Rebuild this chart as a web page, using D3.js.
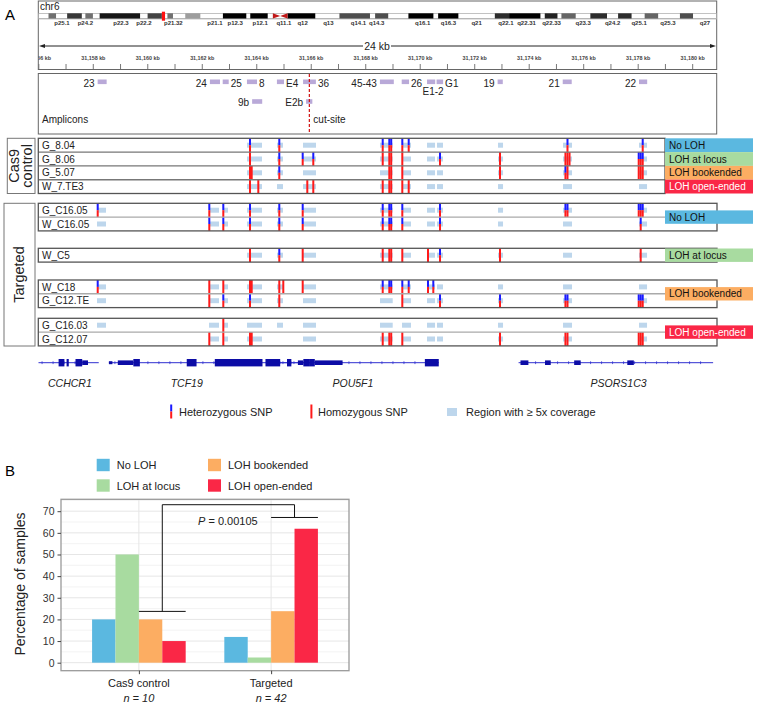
<!DOCTYPE html>
<html><head><meta charset="utf-8">
<script src="https://cdn.jsdelivr.net/npm/d3@7"></script>
<style>body{margin:0;background:#fff}svg{display:block;font-family:"Liberation Sans",Arial,Helvetica,sans-serif}</style>
</head><body><svg id="c" width="757" height="706"></svg>
<script>
// ================= DATA =================
// Ideogram of chr6 (Mb)
const chrLenMb = 171;
const bandStart = [2.5, 7.2, 11.8, 15.4, 27.5, 32.5, 37.0, 46.5, 53.4, 62.8, 75.9, 84.9, 93.3, 100.8, 115.1, 118.7, 127.7, 131.9, 139.2, 146.2, 152.9, 161.8];
const bandEnd   = [4.4, 10.9, 13.7, 25.6, 31.1, 33.9, 40.8, 52.4, 57.8, 69.8, 83.6, 88.2, 99.6, 105.9, 118.7, 126.6, 130.9, 135.5, 143.4, 149.6, 156.3, 165.1];
const bandStain = [50, 75, 50, 90, 70, 50, 30, 100, 100, 100, 65, 65, 100, 100, 80, 100, 85, 55, 80, 80, 55, 65];
const centromereMb = [59.1, 62.8];
const currentMb = [31.1, 31.9];
const bandLabels = ["p25.1","p24.2","p22.3","p22.2","p21.32","p21.1","p12.3","p12.1","q11.1","q12","q13","q14.1","q14.3","q16.1","q16.3","q21","q22.1","q22.31","q22.33","q23.3","q24.2","q25.1","q25.3","q27"];
const bandLabelMb = [5.9, 11.8, 20.8, 26.6, 34.0, 44.5, 49.6, 55.9, 61.9, 66.6, 73.1, 80.7, 85.3, 96.9, 103.4, 110.5, 117.9, 123.1, 129.4, 137.4, 144.8, 151.5, 158.8, 168.1];

// Genomic window (kb)
const viewKb = [31156, 31180.9];
const rulerTicksKb = d3.range(31156, 31181, 1);
const rulerLabelKb = d3.range(31156, 31181, 2);
const spanLabel = "24 kb";

// Amplicons (kb)
const ampName  = ["23","24","25","8","E4","36","45-43","26","E1-2","G1","19","21","22","9b","E2b"];
const ampStart = [31158.16,31162.28,31162.75,31163.64,31164.74,31165.70,31168.52,31169.32,31170.25,31170.60,31172.84,31175.23,31178.03,31163.83,31165.81];
const ampEnd   = [31158.49,31162.65,31162.97,31164.01,31165.00,31166.17,31169.03,31169.59,31170.55,31170.84,31173.03,31175.56,31178.33,31164.20,31166.04];
const ampSide  = ["l","l","r","r","r","r","l","r","b","r","l","l","l","l","l"];
const ampRow   = [0,0,0,0,0,0,0,0,0,0,0,0,0,1,1];
const cutSiteKb = 31165.93;

// Coverage regions (kb)
const covStart = [31158.136,31162.247,31162.761,31163.642,31164.743,31165.697,31168.523,31169.331,31170.249,31170.616,31172.855,31175.241,31178.030];
const covEnd   = [31158.466,31162.614,31162.944,31164.192,31164.963,31166.174,31168.990,31169.661,31170.543,31170.836,31173.039,31175.571,31178.325];

// SNP sites (kb)
const snpKb = [31158.162,31162.258,31162.772,31163.752,31163.814,31164.057,31164.827,31164.974,31165.686,31165.855,31166.075,31168.623,31168.865,31168.935,31169.342,31169.577,31170.285,31170.480,31170.726,31172.928,31175.330,31175.405,31175.480,31178.019,31178.092,31178.166];

// Samples: genotype per SNP site (h = heterozygous, H = homozygous, . = none), coverage mask
const sampleNames = ["G_8.04","G_8.06","G_5.07","W_7.TE3","G_C16.05","W_C16.05","W_C5","W_C18","G_C12.TE","G_C16.03","G_C12.07"];
const sampleBlock = [0,0,0,0,1,1,2,3,3,4,4];
const sampleGeno = [
  "...h..h....hhhhh.....h...h",
  "...H..h.h.hHHHH...hHHHHhhh",
  "...HH.h.....HHH....HhH.HHH",
  "...H.H...HHHHHHH..........",
  "hhhh..h.h..hhhh...h.hh.hhh",
  ".hhh..h.h..hhhh...h.....h.",
  "...H..h.H..HHHH.H.hH....H.",
  "hHHHH.HHH..hhhhhhh........",
  ".Hhh..H.......H...hhhh.hhh",
  "..H.......................",
  ".HHHH......HHHH....HHH.HHH"
];
const sampleCov = [
  "0001111111111","0001111111111","0001111111111","0001111111111",
  "1111111111111","1111111111111","0001111111111",
  "1111111111111","1111111111111","1111111111111","0111011111111"
];
const groupNames = ["Cas9\ncontrol","Targeted"];
const blockGroup = [0,1,1,1,1];
const lohCategories = ["No LOH","LOH at locus","LOH bookended","LOH open-ended"];
const cas9RowCategory = [0,1,2,3];
const targetedBlockCategory = [0,1,2,3];

// Genes (kb)
const geneNames = ["CCHCR1","TCF19","POU5F1","PSORS1C3"];
const geneLabelKb = [31157.14, 31161.43, 31167.53, 31177.28];
const geneLineStart = [31155.9, 31158.573, 31164.337, 31173.61];
const geneLineEnd   = [31158.20, 31167.15, 31170.68, 31180.75];
const exonStart = [31156.727,31157.020,31157.347,31157.593, 31158.573,31158.900,31159.470,31161.430,31162.460,31164.320,31165.110,31165.510,31165.710,31165.920,31166.130,31170.170, 31173.680,31174.580,31175.650,31177.600];
const exonEnd   = [31156.940,31157.100,31157.593,31157.806, 31158.701,31159.470,31159.710,31161.790,31164.210,31164.860,31165.270,31165.710,31165.920,31166.130,31167.150,31170.680, 31173.970,31174.790,31175.890,31177.840];
const exonSize  = [2,2,2,1, 0,1,2,2,2,2,2,1,2,2,1,2, 1,1,1,1];

// Panel B
const groupsB = ["Cas9 control","Targeted"];
const groupN = ["n = 10","n = 42"];
const noLOH = [20, 11.9];
const lohAtLocus = [50, 2.4];
const lohBookended = [20, 23.8];
const lohOpenEnded = [10, 61.9];
const pValueText = "0.00105";
const yTicksB = [0,10,20,30,40,50,60,70];
const bracketLevels = [23.7, 73, 67.1];

// ================= DRAW =================
const svg = d3.select("#c");
const COLORS = ["#5bb8e0","#a8dba0","#fcad62","#fa2746"];
const SNPBLUE = "#1a1aff", SNPRED = "#ff1a1a", COV = "#bdd6ec", AMP = "#b9a9d8";
const GENE = "#0c0ca6", GENELINE = "#3030d0";

// Panel letters
svg.append("text").attr("x",5).attr("y",20).attr("font-size",15).text("A");
svg.append("text").attr("x",5).attr("y",476).attr("font-size",15).text("B");

// ---------- Ideogram ----------
const xi = d3.scaleLinear().domain([0, chrLenMb]).range([38.6, 716.4]);
const ideo = svg.append("g");
ideo.append("rect").attr("x",38.3).attr("y",1).attr("width",678.4).attr("height",68.5).attr("fill","none").attr("stroke","#666").attr("stroke-width",1);
ideo.append("text").attr("x",40).attr("y",10).attr("font-size",10).attr("fill","#222").text("chr6");
ideo.append("rect").attr("x",xi(0)).attr("y",17.5).attr("width",xi(chrLenMb)-xi(0)).attr("height",2).attr("fill","#c8c8c8");
ideo.append("rect").attr("x",xi(0)).attr("y",13.3).attr("width",xi(chrLenMb)-xi(0)).attr("height",5.2).attr("fill","#fff").attr("stroke","#999").attr("stroke-width",0.6);
const stainColor = s => d3.interpolateGray ? d3.interpolateRgb("#d8d8d8","#000")(s/100) : "#888";
bandStart.forEach((s,i)=>{
  ideo.append("rect").attr("x",xi(s)).attr("y",13.3).attr("width",xi(bandEnd[i])-xi(s)).attr("height",5.2)
    .attr("fill",d3.interpolateRgb("#e0e0e0","#000")(bandStain[i]/100));
});
// centromere
const cL = xi(centromereMb[0]), cR = xi(centromereMb[1]), cM = (cL+cR)/2;
ideo.append("path").attr("d",`M${cL},13.3L${cM},15.9L${cL},18.5Z M${cR},13.3L${cM},15.9L${cR},18.5Z`).attr("fill","#c01818");
// current locus
ideo.append("rect").attr("x",xi(currentMb[0])).attr("y",11.7).attr("width",xi(currentMb[1])-xi(currentMb[0])).attr("height",9).attr("fill","#ff1010");
ideo.selectAll("text.band").data(bandLabels).join("text").attr("class","band")
  .attr("x",(d,i)=>xi(bandLabelMb[i])).attr("y",25).attr("text-anchor","middle")
  .attr("font-size",6).attr("font-weight","bold").attr("fill","#333").text(d=>d);

// ---------- Ruler ----------
const x = d3.scaleLinear().domain(viewKb).range([38.8, 717.2]);
svg.append("defs").append("clipPath").attr("id","trackClip").append("rect").attr("x",38.5).attr("y",0).attr("width",678).attr("height",706);
const ruler = svg.append("g").attr("clip-path","url(#trackClip)");
ruler.append("line").attr("x1",42).attr("x2",713).attr("y1",46).attr("y2",46).attr("stroke","#222").attr("stroke-width",1);
ruler.append("path").attr("d","M39,46L45,44L45,48Z M716,46L710,44L710,48Z").attr("fill","#222");
const midX = (x.range()[0]+x.range()[1])/2 - 1;
ruler.append("rect").attr("x",midX-14).attr("y",40).attr("width",28).attr("height",12).attr("fill","#fff");
ruler.append("text").attr("x",midX).attr("y",50).attr("text-anchor","middle").attr("font-size",10.5).attr("fill","#222").text(spanLabel);
ruler.selectAll("line.tk").data(rulerTicksKb).join("line").attr("class","tk")
  .attr("x1",d=>x(d)).attr("x2",d=>x(d)).attr("y1",64).attr("y2",69).attr("stroke","#555").attr("stroke-width",0.8);
ruler.selectAll("text.tl").data(rulerLabelKb).join("text").attr("class","tl")
  .attr("x",d=>x(d)).attr("y",60).attr("text-anchor","middle").attr("font-size",5.4).attr("font-weight","bold").attr("fill","#444")
  .text(d=>d3.format(",")(d)+" kb");

// ---------- Amplicons ----------
const amp = svg.append("g");
amp.append("rect").attr("x",38.3).attr("y",73.5).attr("width",678.4).attr("height",60.5).attr("fill","none").attr("stroke","#666").attr("stroke-width",1);
const ampY = [79.5, 99.2];
ampName.forEach((n,i)=>{
  const y0 = ampY[ampRow[i]];
  amp.append("rect").attr("x",x(ampStart[i])).attr("y",y0).attr("width",x(ampEnd[i])-x(ampStart[i])).attr("height",4.6).attr("fill",AMP);
  const t = amp.append("text").attr("font-size",10).attr("fill","#222").text(n);
  if (ampSide[i]==="l") t.attr("x",x(ampStart[i])-3).attr("y",y0+7).attr("text-anchor","end");
  else if (ampSide[i]==="r") t.attr("x",x(ampEnd[i])+2).attr("y",y0+7);
  else t.attr("x",(x(ampStart[i])+x(ampEnd[i]))/2+2).attr("y",y0+15.5).attr("text-anchor","middle");
});
amp.append("line").attr("x1",x(cutSiteKb)).attr("x2",x(cutSiteKb)).attr("y1",74).attr("y2",134).attr("stroke","#d01010").attr("stroke-width",1.2).attr("stroke-dasharray","3,2");
amp.append("text").attr("x",x(cutSiteKb)+4).attr("y",123).attr("font-size",10).attr("fill","#222").text("cut-site");
amp.append("text").attr("x",42).attr("y",123).attr("font-size",10).attr("fill","#222").text("Amplicons");

// ---------- Tracks ----------
const rowH = 13.8;
const blockTop = [138.3, 203.3, 248.3, 280, 318.3];
const blockRight = [665, 717, 717, 717, 717];
const tracks = svg.append("g");
const rowTop = [];
const counter = {};
sampleNames.forEach((n,i)=>{
  const b = sampleBlock[i];
  counter[b] = (counter[b]||0);
  rowTop.push(blockTop[b] + counter[b]*rowH);
  counter[b]++;
});
// group label boxes
const gBox = [[7.3,138.3,35,193.5],[4,203.3,35,346]];
gBox.forEach((bx,gi)=>{
  tracks.append("rect").attr("x",bx[0]).attr("y",bx[1]).attr("width",bx[2]-bx[0]).attr("height",bx[3]-bx[1]).attr("fill","none").attr("stroke","#777").attr("stroke-width",1);
});
const cy0 = (138.3+193.5)/2;
groupNames[0].split("\n").forEach((ln,k)=>{
  tracks.append("text").attr("transform",`translate(${18.5+k*13.5},${cy0}) rotate(-90)`).attr("text-anchor","middle").attr("font-size",14.5).attr("fill","#222").text(ln);
});
tracks.append("text").attr("transform",`translate(23.5,274.5) rotate(-90)`).attr("text-anchor","middle").attr("font-size",14.5).attr("fill","#222").text(groupNames[1]);

// rows
sampleNames.forEach((n,i)=>{
  const b = sampleBlock[i], top = rowTop[i], right = blockRight[b];
  const g = tracks.append("g");
  // coverage
  covStart.forEach((s,k)=>{
    if (sampleCov[i][k]==="1")
      g.append("rect").attr("x",x(s)).attr("y",top+4.4).attr("width",x(covEnd[k])-x(s)).attr("height",5).attr("fill",COV);
  });
  // SNPs
  snpKb.forEach((s,k)=>{
    const c = sampleGeno[i][k];
    if (c==="h") {
      g.append("rect").attr("x",x(s)-1).attr("y",top).attr("width",2).attr("height",rowH/2).attr("fill",SNPBLUE);
      g.append("rect").attr("x",x(s)-1).attr("y",top+rowH/2).attr("width",2).attr("height",rowH/2).attr("fill",SNPRED);
    } else if (c==="H") {
      g.append("rect").attr("x",x(s)-1).attr("y",top).attr("width",2).attr("height",rowH).attr("fill",SNPRED);
    }
  });
  g.append("text").attr("x",42).attr("y",top+rowH/2+3.6).attr("font-size",10).attr("fill","#222").text(n);
});
// row separators and block outlines
blockTop.forEach((t,b)=>{
  const nRows = sampleBlock.filter(v=>v===b).length;
  for (let r=1;r<nRows;r++){
    tracks.append("line").attr("x1",38.3).attr("x2",blockRight[b]).attr("y1",t+r*rowH).attr("y2",t+r*rowH)
      .attr("stroke", b===0 ? "#777" : "#aaa").attr("stroke-width",1.4);
  }
  tracks.append("rect").attr("x",38.3).attr("y",t).attr("width",blockRight[b]-38.3).attr("height",nRows*rowH)
    .attr("fill","none").attr("stroke","#555").attr("stroke-width",1.3);
});
// category labels
const catX = 665, catW = 88;
cas9RowCategory.forEach((c,r)=>{
  const top = rowTop[r];
  tracks.append("rect").attr("x",catX).attr("y",top).attr("width",catW).attr("height",rowH).attr("fill",COLORS[c]);
  tracks.append("text").attr("x",catX+4).attr("y",top+rowH/2+3.6).attr("font-size",10).attr("fill",c===3?"#fff":"#111").text(lohCategories[c]);
});
targetedBlockCategory.forEach((c,k)=>{
  const b = k+1;
  const nRows = sampleBlock.filter(v=>v===b).length;
  const mid = blockTop[b] + nRows*rowH/2;
  tracks.append("rect").attr("x",catX).attr("y",mid-6.7).attr("width",catW).attr("height",13.4).attr("fill",COLORS[c]);
  tracks.append("text").attr("x",catX+4).attr("y",mid+3.6).attr("font-size",10).attr("fill",c===3?"#fff":"#111").text(lohCategories[c]);
});

// ---------- Genes ----------
const genes = svg.append("g").attr("clip-path","url(#trackClip)");
const gy = 362.7;
geneNames.forEach((n,i)=>{
  const a = x(geneLineStart[i]), e = x(geneLineEnd[i]);
  genes.append("line").attr("x1",a).attr("x2",e).attr("y1",gy).attr("y2",gy).attr("stroke",GENELINE).attr("stroke-width",1);
  for (let p=a+6; p<e-3; p+=11) genes.append("line").attr("x1",p).attr("x2",p).attr("y1",gy-1.4).attr("y2",gy+1.4).attr("stroke",GENELINE).attr("stroke-width",0.8);
  genes.append("text").attr("x",x(geneLabelKb[i])).attr("y",386.5).attr("text-anchor","middle").attr("font-size",10.5).attr("font-style","italic").attr("fill","#222").text(n);
});
const exH = [3, 4.6, 7.4];
exonStart.forEach((s,k)=>{
  genes.append("rect").attr("x",x(s)).attr("y",gy-exH[exonSize[k]]/2).attr("width",Math.max(1,x(exonEnd[k])-x(s))).attr("height",exH[exonSize[k]]).attr("fill",GENE);
});

// ---------- Legend A ----------
const lg = svg.append("g");
lg.append("rect").attr("x",170.2).attr("y",404.5).attr("width",2).attr("height",7).attr("fill",SNPBLUE);
lg.append("rect").attr("x",170.2).attr("y",411.5).attr("width",2).attr("height",7).attr("fill",SNPRED);
lg.append("text").attr("x",179).attr("y",415.5).attr("font-size",11).attr("fill","#222").text("Heterozygous SNP");
lg.append("rect").attr("x",310.4).attr("y",404.5).attr("width",2).attr("height",14).attr("fill",SNPRED);
lg.append("text").attr("x",318).attr("y",415.5).attr("font-size",11).attr("fill","#222").text("Homozygous SNP");
lg.append("rect").attr("x",447).attr("y",408).attr("width",10).attr("height",8).attr("fill",COV);
lg.append("text").attr("x",466).attr("y",415.5).attr("font-size",11).attr("fill","#222").text("Region with \u2265 5x coverage");

// ---------- Panel B ----------
const seriesVals = [noLOH, lohAtLocus, lohBookended, lohOpenEnded];
const yB = d3.scaleLinear().domain([-3.7, 75.5]).range([670.7, 499.3]);
const xB = d3.scalePoint().domain(groupsB).range([61, 349]).padding(0.589);
const xS = d3.scaleBand().domain(lohCategories).range([-46.8, 46.8]);
const pB = svg.append("g");
// legend
lohCategories.forEach((c,i)=>{
  const col = i%2===0 ? (i<2?0:1) : (i<2?0:1);
  const cx = [96.7, 208][i<2? (i===0?0:0) : 1];
});
const legPos = [[96.7,458.8],[96.7,479.3],[208,458.8],[208,479.3]];
lohCategories.forEach((c,i)=>{
  pB.append("rect").attr("x",legPos[i][0]).attr("y",legPos[i][1]).attr("width",13).attr("height",12.4).attr("fill",COLORS[i]);
  pB.append("text").attr("x",legPos[i][0]+20).attr("y",legPos[i][1]+10.2).attr("font-size",11).attr("fill","#222").text(c);
});
// grid
d3.range(0, 76, 5).forEach(v=>{
  pB.append("line").attr("x1",61).attr("x2",349).attr("y1",yB(v)).attr("y2",yB(v)).attr("stroke", v%10===0 ? "#e6e6e6" : "#f0f0f0").attr("stroke-width", v%10===0?1:0.8);
});
groupsB.forEach(g=>{
  pB.append("line").attr("x1",xB(g)).attr("x2",xB(g)).attr("y1",499.3).attr("y2",670.7).attr("stroke","#e6e6e6").attr("stroke-width",1);
});
// bars
seriesVals.forEach((vals,si)=>{
  pB.selectAll(null).data(groupsB).join("rect")
    .attr("x",g=>xB(g)+xS(lohCategories[si])).attr("width",xS.bandwidth())
    .attr("y",(g,gi)=>yB(vals[gi])).attr("height",(g,gi)=>yB(0)-yB(vals[gi]))
    .attr("fill",COLORS[si]);
});
// panel border
pB.append("rect").attr("x",61).attr("y",499.3).attr("width",288).attr("height",171.4).attr("fill","none").attr("stroke","#9a9a9a").attr("stroke-width",1.3);
// axes
const ax = pB.append("g").attr("transform","translate(61,0)").call(d3.axisLeft(yB).tickValues(yTicksB).tickSize(3.5).tickPadding(3));
ax.select(".domain").remove();
ax.selectAll("line").attr("stroke","#444");
ax.selectAll("text").attr("font-size",10.5).attr("fill","#333").attr("font-family",'"Liberation Sans",Arial,sans-serif');
const bx = pB.append("g").attr("transform","translate(0,670.7)").call(d3.axisBottom(xB).tickSize(3.5).tickFormat(""));
bx.select(".domain").remove();
bx.selectAll("line").attr("stroke","#444");
groupsB.forEach((g,i)=>{
  pB.append("text").attr("x",xB(g)).attr("y",686.5).attr("text-anchor","middle").attr("font-size",11).attr("fill","#222").text(g);
  const t = pB.append("text").attr("x",xB(g)).attr("y",702).attr("text-anchor","middle").attr("font-size",11).attr("fill","#222");
  const parts = groupN[i].split(" ");
  t.append("tspan").attr("font-style","italic").text(groupN[i]);
});
pB.append("text").attr("transform",`translate(24.5,584) rotate(-90)`).attr("text-anchor","middle").attr("font-size",14).attr("fill","#222").text("Percentage of samples");
// bracket
const c0 = groupsB[0], c1 = groupsB[1];
const l0a = xB(c0)+xS(lohCategories[2]), l0b = xB(c0)+xS(lohCategories[3])+xS.bandwidth();
const l1a = xB(c1)+xS(lohCategories[2]), l1b = xB(c1)+xS(lohCategories[3])+xS.bandwidth();
const m0 = (l0a+l0b)/2, m1 = (l1a+l1b)/2;
pB.append("path").attr("d",
  `M${l0a},${yB(bracketLevels[0])}H${l0b} M${m0},${yB(bracketLevels[0])}V${yB(bracketLevels[1])}H${m1}V${yB(bracketLevels[2])} M${l1a},${yB(bracketLevels[2])}H${l1b}`)
  .attr("fill","none").attr("stroke","#111").attr("stroke-width",1);
const pt = pB.append("text").attr("x",198).attr("y",524.5).attr("font-size",11).attr("fill","#222");
pt.append("tspan").attr("font-style","italic").text("P");
pt.append("tspan").text(" = " + pValueText);
</script></body></html>
